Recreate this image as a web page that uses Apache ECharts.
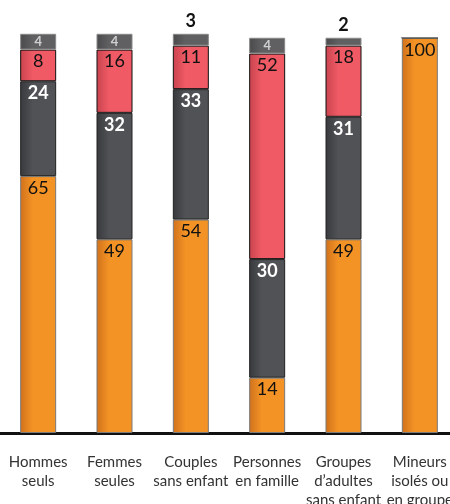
<!DOCTYPE html>
<html><head><meta charset="utf-8">
<script src="https://cdn.jsdelivr.net/npm/echarts@6/dist/echarts.min.js"></script>
<style>html,body{margin:0;padding:0;background:#fff}#c{width:450px;height:504px}</style>
</head><body><div id="c"></div>
<script>
var categories = ["Hommes\nseuls","Femmes\nseules","Couples\nsans enfant","Personnes\nen famille","Groupes\nd\u2019adultes\nsans enfant","Mineurs\nisolés ou\nen groupe"];
var orangeVals = [65,49,54,14,49,100];
var darkVals = [24,32,33,30,31,0];
var redVals = [8,16,11,52,18,0];
var greyVals = [4,4,3,4,2,0];
var greyAbove = [false,false,true,false,true,false];

function grad(a,b){return new echarts.graphic.LinearGradient(0,0,1,0,[{offset:0,color:a},{offset:0.35,color:b},{offset:1,color:b}]);}
var lbl = function(color,bold,size){return {show:true,position:'insideTop',distance:3,color:color,fontWeight:bold?'bold':'normal',fontSize:size,fontFamily:'Lato',formatter:function(p){return p.value>0?p.value:'';}};};

var chart = echarts.init(document.getElementById('c'),null,{renderer:'canvas'});
chart.setOption({
  animation:false,
  grid:{left:0,top:18,width:458,bottom:71,outerBoundsMode:'none',containLabel:false},
  xAxis:{type:'category',data:categories,axisTick:{show:false},
    axisLine:{lineStyle:{color:'#111',width:3}},
    axisLabel:{color:'#333',fontSize:15,fontFamily:'Lato',lineHeight:19,margin:20,interval:0}},
  yAxis:{type:'value',min:0,max:105,show:false,splitLine:{show:false}},
  series:[
    {type:'bar',stack:'s',barWidth:36,data:orangeVals,
     itemStyle:{color:grad('#d0711c','#f39325'),borderColor:'#7a7a7a',borderWidth:1},
     label:lbl('#111',false,18)},
    {type:'bar',stack:'s',data:darkVals,
     itemStyle:{color:grad('#38393c','#505256'),borderColor:'#222',borderWidth:1},
     label:lbl('#fff',true,18)},
    {type:'bar',stack:'s',data:redVals,
     itemStyle:{color:grad('#c8434e','#ef5a65'),borderColor:'#111',borderWidth:1},
     label:lbl('#111',false,18)},
    {type:'bar',stack:'s',data:greyVals.map(function(v,i){
        var d={value:v};
        if(greyAbove[i]) d.label={position:'top',distance:4,color:'#111',fontWeight:'bold',fontSize:18};
        return d;}),
     itemStyle:{color:grad('#4a4a4c','#606063'),borderColor:'#888',borderWidth:1},
     label:{show:true,position:'inside',color:'#d0d0d0',fontWeight:'bold',fontSize:13,fontFamily:'Lato',
       formatter:function(p){return p.value>0?p.value:'';}}}
  ]
});
</script></body></html>
